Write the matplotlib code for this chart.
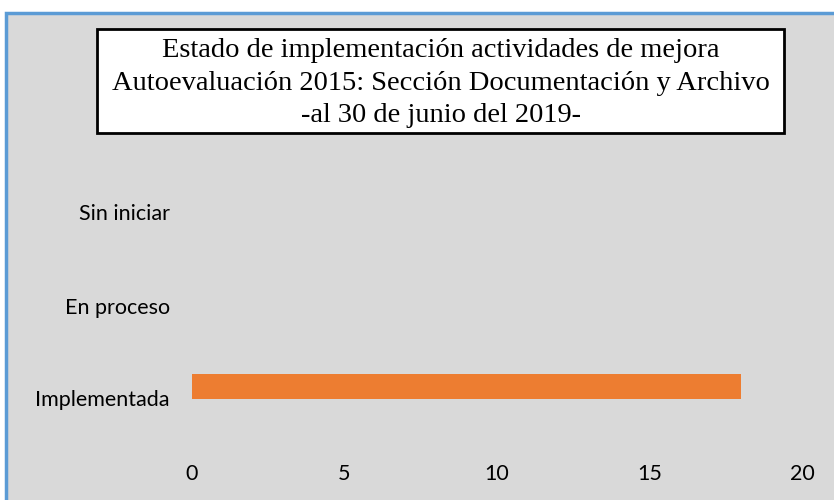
import matplotlib
matplotlib.use("Agg")
import matplotlib.pyplot as plt
import numpy as np
from matplotlib.patches import Rectangle

categories = ["Implementada", "En proceso", "Sin iniciar"]
values = [18, 0, 0]
x_ticks = [0, 5, 10, 15, 20]
title_lines = [
    "Estado de implementación actividades de mejora",
    "Autoevaluación 2015: Sección Documentación y Archivo",
    "-al 30 de junio del 2019-",
]

W, H = 834, 500
fig = plt.figure(figsize=(W / 100, H / 100), dpi=100)
fig.patch.set_facecolor("white")

# gray chart area with the blue outline (runs off the right/bottom edges)
fig.patches.append(Rectangle((6 / W, -0.05), 1.05, (H - 13) / H + 0.05,
                             transform=fig.transFigure, facecolor="#d9d9d9",
                             edgecolor="#5b9bd5", linewidth=2.5, zorder=-10))

ax = fig.add_axes([192 / W, (H - 445) / H, (802 - 192) / W, (445 - 166) / H])
ax.set_zorder(5)
ax.set_facecolor("none")
pos = np.arange(len(categories))
# Excel draws the single series slightly above the category centre
ax.barh(pos + 0.13, values, height=0.27, color="#ed7d31")
ax.set_xlim(0, 20)
ax.set_ylim(-0.5, len(categories) - 0.5)
ax.set_xticks(x_ticks)
ax.set_yticks(pos)
ax.set_yticklabels(categories)
for s in ax.spines.values():
    s.set_visible(False)
ax.tick_params(length=0, labelsize=15.5, colors="black")
ax.tick_params(axis="x", pad=14)
ax.tick_params(axis="y", pad=16)
for lbl in ax.get_xticklabels() + ax.get_yticklabels():
    lbl.set_fontfamily("Lato")

# title box
fig.patches.append(Rectangle((97 / W, (H - 133) / H), (784 - 97) / W, (133 - 29) / H,
                             transform=fig.transFigure, facecolor="white",
                             edgecolor="black", linewidth=2, zorder=2))
fig.text((97 + 784) / 2 / W, (H - 83) / H, "\n".join(title_lines),
         ha="center", va="center", fontsize=20.5, family="Liberation Serif",
         linespacing=1.38, zorder=3)

fig.savefig("out.png", dpi=100)
